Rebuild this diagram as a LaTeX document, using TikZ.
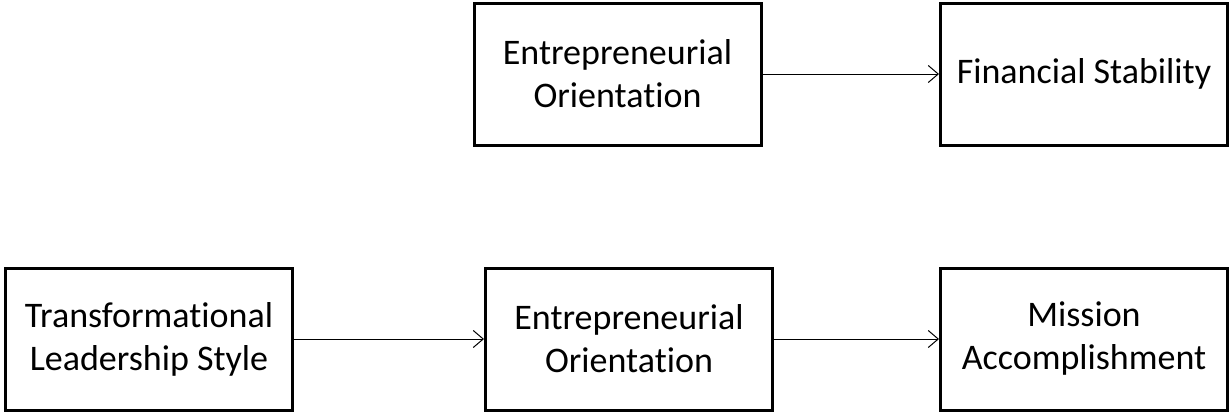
\documentclass[tikz,border=0pt]{standalone}
\usepackage{fontspec}
\setmainfont{Carlito}[Ligatures={NoCommon,NoRare}]
\usetikzlibrary{arrows.meta}
\begin{document}
\begin{tikzpicture}[x=1pt,y=-1pt,
  box/.style={draw, line width=3pt, rectangle, minimum width=287pt, minimum height=142pt,
    align=center, inner sep=0pt, font=\fontsize{36}{43}\selectfont},
  link/.style={line width=1pt, -{Straight Barb[length=10pt,width=17pt,line width=1pt]}}]
  \useasboundingbox (0,0) rectangle (1230,415);
  % upper row
  \node[box] (eo1) at (617.5,74) {Entrepreneurial\\Orientation};
  \node[box] (fs) at (1084,74) {Financial Stability};
  % lower row
  \node[box] (tl) at (149,339) {Transformational\\Leadership Style};
  \node[box] (eo2) at (629,339) {Entrepreneurial\\Orientation};
  \node[box] (ma) at (1084,339) {Mission\\Accomplishment};
  % connectors
  \draw[link] (eo1.east) -- (fs.west);
  \draw[link] (tl.east) -- (eo2.west);
  \draw[link] (eo2.east) -- (ma.west);
\end{tikzpicture}
\end{document}
